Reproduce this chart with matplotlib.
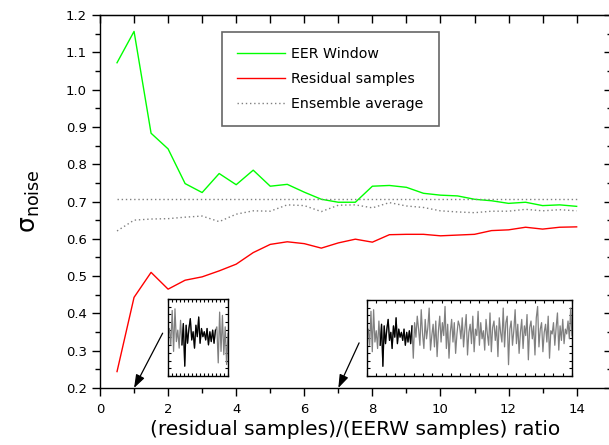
import numpy as np
import matplotlib.pyplot as plt
from matplotlib.ticker import MultipleLocator

plt.rcParams['font.family'] = ['DejaVu Sans']

# main curves
ratio = [0.5, 1, 1.5, 2, 2.5, 3, 3.5, 4, 4.5, 5, 5.5, 6, 6.5, 7,
         7.5, 8, 8.5, 9, 9.5, 10, 10.5, 11, 11.5, 12, 12.5, 13, 13.5, 14]
eer_window = [1.072, 1.156, 0.883, 0.841, 0.748, 0.724, 0.775, 0.745, 0.784, 0.741,
              0.746, 0.725, 0.706, 0.698, 0.698, 0.741, 0.743, 0.738, 0.722, 0.717,
              0.715, 0.706, 0.702, 0.695, 0.698, 0.689, 0.691, 0.687]
residual = [0.244, 0.443, 0.510, 0.465, 0.489, 0.498, 0.514, 0.532, 0.563, 0.585,
            0.592, 0.587, 0.575, 0.589, 0.599, 0.591, 0.611, 0.612, 0.612, 0.608,
            0.610, 0.612, 0.622, 0.624, 0.631, 0.626, 0.631, 0.632]
ensemble = [0.621, 0.650, 0.653, 0.654, 0.658, 0.661, 0.646, 0.666, 0.675, 0.674,
            0.691, 0.689, 0.673, 0.690, 0.691, 0.683, 0.697, 0.688, 0.684, 0.675,
            0.672, 0.670, 0.674, 0.674, 0.679, 0.675, 0.678, 0.675]
ensemble_ref = 0.7071

# inset noise traces (normalised)
noise_before = [0.0, 0.2, -0.3, 0.75, -0.5, 0.8, -0.2, 0.15, -0.4, 0.45, -0.3]
noise_window = [0.35, -0.95, 0.3, -0.25, 0.2, 0.5, -0.15, 0.1, -0.4, 0.3, -0.05, 0.55,
                -0.25, 0.2, -0.05, 0.1, -0.15, 0.2, -0.3, 0.1, -0.2, 0.15, -0.25]
noise_after_short = [0.15, 0.25, -0.85, 0.7, -0.5, 0.6, -0.6, 0.25, -0.9, 0.05]
noise_after_long = [
    0.3, -0.7, 0.4, -0.05, 0.6, 0.2, -0.3, 0.8, 0.05, -0.4, 0.5, -0.1, 0.25, 0.85,
    -0.45, 0.0, 0.35, -0.35, 0.45, -0.65, 0.15, 0.6, -0.2, 0.4, 0.0, 0.9, -0.4, 0.35,
    -0.7, 0.1, 0.5, -0.2, 0.4, -0.55, 0.05, 0.45, 0.3, -0.1, 0.55, -0.35, 0.2, 0.65,
    -0.6, 0.1, 0.35, -0.25, 0.6, -0.5, 0.2, 0.0, 0.75, -0.3, 0.4, -0.1, 0.15, -0.45,
    0.5, 0.05, -0.3, 0.7, -0.5, 0.25, 0.45, -0.15, 0.3, -0.65, 0.55, 0.1, -0.2, 0.85,
    -0.35, 0.4, 0.6, -0.9, 0.2, 0.45, -0.3, 0.15, 0.8, -0.25, 0.35, -0.55, 0.1, 0.5,
    -0.4, 0.3, 0.0, 0.65, -0.75, 0.25, 0.45, -0.1, 0.3, -0.6, 0.55, 0.9, -0.35, 0.2,
    0.4, -0.5, 0.1, 0.35, -0.2, 0.6, -0.7, 0.15, 0.05, 0.4, -0.3, 0.25, 0.7, -0.45,
    0.3, -0.15, 0.5, -0.25, 0.2, 0.05, 0.45, -0.1, 0.85, 0.0]

W, H = 609, 445
fig = plt.figure(figsize=(W / 100, H / 100), dpi=100)
ax = fig.add_axes([100 / W, 57 / H, 510.7 / W, 373 / H])

ax.plot(ratio, eer_window, color='#00ff00', lw=1.0, label='EER Window')
ax.plot(ratio, residual, color='#ff0000', lw=1.0, label='Residual samples')
ax.plot(ratio, ensemble, color='#808080', lw=1.0, ls=(0, (1, 2)), label='Ensemble average')
ax.plot([ratio[0], ratio[-1]], [ensemble_ref, ensemble_ref], color='#808080', lw=1.0, ls=(0, (1, 2)))

ax.set_xlim(0, 15)
ax.set_ylim(0.2, 1.2)
ax.xaxis.set_major_locator(MultipleLocator(2))
ax.xaxis.set_minor_locator(MultipleLocator(1))
ax.yaxis.set_major_locator(MultipleLocator(0.1))
ax.yaxis.set_minor_locator(MultipleLocator(0.05))
ax.set_xticks(range(0, 15, 2))
ax.tick_params(which='major', direction='out', length=6, width=1, labelsize=9.5)
ax.tick_params(which='minor', direction='out', length=3.5, width=1)
ax.tick_params(axis='x', pad=5)
ax.yaxis.set_major_formatter(plt.FormatStrFormatter('%.1f'))
for s in ax.spines.values():
    s.set_linewidth(1.0)

top = ax.secondary_xaxis('top')
top.set_xticks(range(0, 16))
top.tick_params(direction='in', length=6, width=1, labeltop=False)
right = ax.secondary_yaxis('right')
right.yaxis.set_major_locator(MultipleLocator(0.1))
right.yaxis.set_minor_locator(MultipleLocator(0.05))
right.tick_params(which='major', direction='in', length=5, width=1, labelright=False)
right.tick_params(which='minor', direction='in', length=3, width=1)

ax.set_xlabel('(residual samples)/(EERW samples) ratio', fontsize=14.5, labelpad=3)
ax.set_ylabel(r'σ$_{\mathregular{noise}}$', fontsize=18, labelpad=17)

leg = ax.legend(loc='upper left', bbox_to_anchor=((222 - 100) / 510.7, (388 - 32) / 373),
                frameon=True, fancybox=False, edgecolor='#404040', fontsize=10.2,
                handlelength=3.4, borderpad=1.05, labelspacing=0.78, handletextpad=0.45,
                borderaxespad=0, handleheight=0.7)
leg.get_frame().set_linewidth(1.2)

# arrows to the ratio they illustrate
arrow = dict(arrowstyle='-|>,head_length=0.8,head_width=0.28', color='black', lw=0.9,
             mutation_scale=10, shrinkA=0, shrinkB=0)
ax.annotate('', xy=(1.0, 0.2), xytext=(1.84, 0.347), arrowprops=arrow)
ax.annotate('', xy=(7.0, 0.2), xytext=(7.61, 0.321), arrowprops=arrow)


def inset(rect, after, nx):
    a = fig.add_axes(rect)
    trace = noise_before + noise_window + after
    idx = np.arange(len(trace))
    a.plot(idx, trace, color='#808080', lw=0.9)
    i0 = len(noise_before) - 1
    i1 = len(noise_before) + len(noise_window) + 1
    a.plot(idx[i0:i1], trace[i0:i1], color='black', lw=0.9)
    a.set_xlim(0, len(trace) - 1)
    a.set_ylim(-1.25, 1.1)
    a.set_xticks(np.linspace(0, len(trace) - 1, nx))
    a.set_yticks(np.linspace(-1.25, 1.1, 11))
    a.tick_params(direction='in', length=2, width=0.8, top=True, right=True,
                  labelbottom=False, labelleft=False)
    for s in a.spines.values():
        s.set_linewidth(1.0)
    return a


inset([168 / W, (H - 376) / H, 60 / W, 77 / H], noise_after_short, 16)
inset([367 / W, (H - 376) / H, 205 / W, 76 / H], noise_after_long, 23)

fig.savefig('out.png', dpi=100)
